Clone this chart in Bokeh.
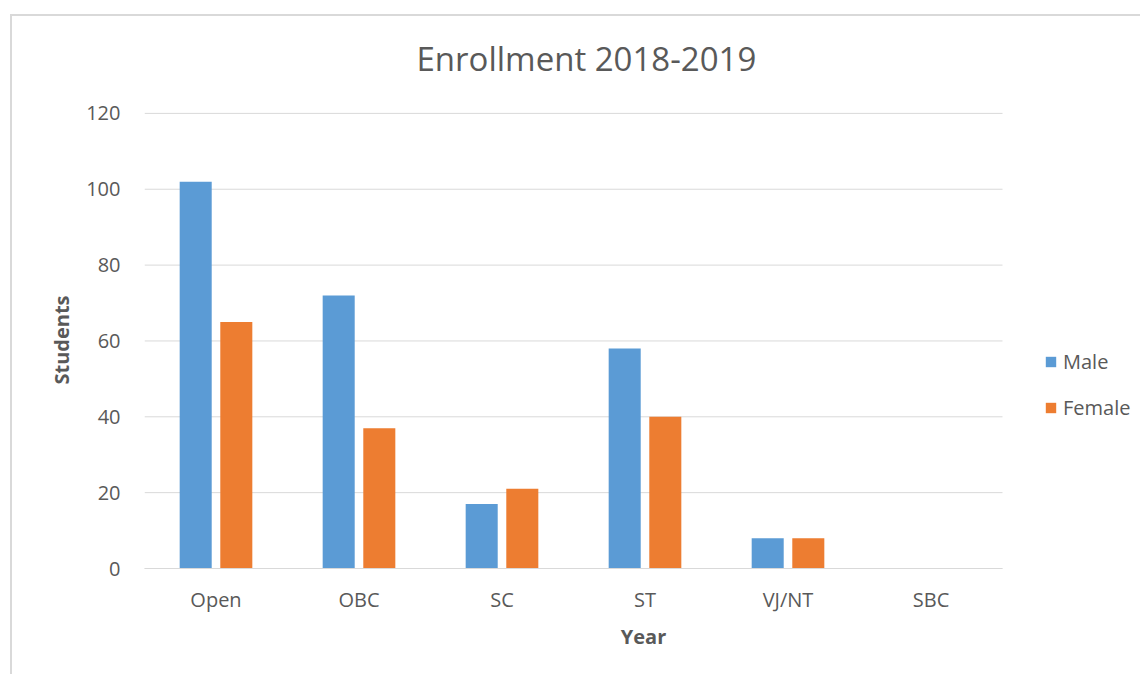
import numpy as np
from bokeh.plotting import figure
from bokeh.models import ColumnDataSource, Range1d, FixedTicker, Legend, LegendItem, Title
from bokeh.embed import file_html
from bokeh.resources import INLINE

categories = ["Open", "OBC", "SC", "ST", "VJ/NT", "SBC"]
male = [102, 72, 17, 58, 8, 0]
female = [65, 37, 21, 40, 8, 0]
y_ticks = [0, 20, 40, 60, 80, 100, 120]

FONT = "Open Sans"
TXT = "#595959"
GRID = "#d9d9d9"

n = len(categories)
pos = np.arange(n) + 0.5
source = ColumnDataSource(data=dict(x=pos, xm=pos - 0.142, xf=pos + 0.142, male=male, female=female))
grid_src = ColumnDataSource(data=dict(y=y_ticks, x0=[0] * len(y_ticks), x1=[n] * len(y_ticks)))

p = figure(
    x_range=Range1d(0, 6.979),
    y_range=Range1d(0, 120.5),
    width=1130, height=660,
    output_backend="svg", toolbar_location=None,
    min_border_left=132, min_border_right=0, min_border_top=95, min_border_bottom=108,
)
p.styles = {"position": "relative", "left": "10px", "top": "14px",
            "border-left": "2px solid #d9d9d9", "border-top": "2px solid #d9d9d9"}
p.outline_line_color = None
p.background_fill_color = "white"
p.border_fill_color = "white"

# gridlines (span only the category area)
p.segment(x0="x0", x1="x1", y0="y", y1="y", source=grid_src, line_color=GRID, line_width=1)

rm = p.vbar(x="xm", top="male", width=0.224, source=source, color="#5b9bd5", line_color=None)
rf = p.vbar(x="xf", top="female", width=0.224, source=source, color="#ed7d31", line_color=None)

# Title
p.title.text = "Enrollment 2018-2019"
p.title.align = "left"
p.title.offset = 272
p.title.vertical_align = "bottom"
p.title.text_font = FONT
p.title.text_font_size = "33px"
p.title.text_font_style = "normal"
p.title.text_color = TXT
p.title.standoff = 0

# spacer between title and plot area
spacer = Title(text=" ", text_font_size="10px", standoff=18)
p.add_layout(spacer, "above")

# Axes
xa = p.xaxis[0]
xa.ticker = FixedTicker(ticks=list(pos))
xa.major_label_overrides = {float(v): c for v, c in zip(pos, categories)}
xa.bounds = (0, n)
xa.axis_label = "Year"
xa.axis_label_text_font = FONT
xa.axis_label_text_font_size = "20px"
xa.axis_label_text_font_style = "bold"
xa.axis_label_text_color = TXT
xa.axis_label_standoff = 7
xa.major_label_text_font = FONT
xa.major_label_text_font_size = "20px"
xa.major_label_text_color = TXT
xa.major_label_standoff = 11
xa.major_tick_line_color = None
xa.minor_tick_line_color = None
xa.axis_line_color = GRID
xa.axis_line_width = 1

ya = p.yaxis[0]
ya.ticker = FixedTicker(ticks=y_ticks)
ya.axis_label = "Students"
ya.axis_label_text_font = FONT
ya.axis_label_text_font_size = "20px"
ya.axis_label_text_font_style = "bold"
ya.axis_label_text_color = TXT
ya.axis_label_standoff = 8
ya.major_label_text_font = FONT
ya.major_label_text_font_size = "20px"
ya.major_label_text_color = TXT
ya.major_label_standoff = 18
ya.major_tick_line_color = None
ya.minor_tick_line_color = None
ya.axis_line_color = None

p.xgrid.grid_line_color = None
p.ygrid.grid_line_color = None

legend = Legend(
    items=[LegendItem(label="Male", renderers=[rm]), LegendItem(label="Female", renderers=[rf])],
    location=(900, 147),
    orientation="vertical",
    border_line_color=None,
    background_fill_alpha=0,
    margin=0, padding=0,
    glyph_width=13, glyph_height=13,
    label_height=20, label_standoff=6, spacing=19,
    label_text_font=FONT, label_text_font_size="20px", label_text_color=TXT,
)
p.add_layout(legend, "center")

open("out.html", "w").write(file_html(p, INLINE))
